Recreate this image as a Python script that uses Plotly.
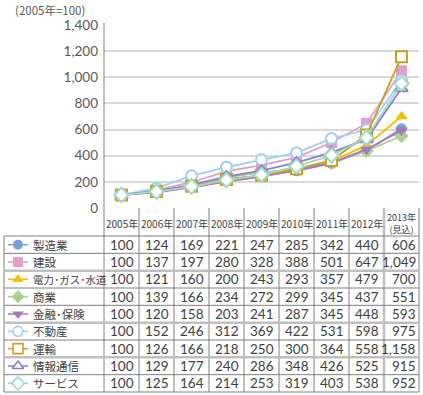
import plotly.graph_objects as go

years = ["2005年", "2006年", "2007年", "2008年", "2009年", "2010年", "2011年", "2012年", "2013年<br>(見込)"]
series_names = ["製造業", "建設", "電力・ガス・水道", "商業", "金融・保険", "不動産", "運輸", "情報通信", "サービス"]
manufacturing = [100, 124, 169, 221, 247, 285, 342, 440, 606]
construction = [100, 137, 197, 280, 328, 388, 501, 647, 1049]
utilities = [100, 121, 160, 200, 243, 293, 357, 479, 700]
commerce = [100, 139, 166, 234, 272, 299, 345, 437, 551]
finance = [100, 120, 158, 203, 241, 287, 345, 448, 593]
real_estate = [100, 152, 246, 312, 369, 422, 531, 598, 975]
transport = [100, 126, 166, 218, 250, 300, 364, 558, 1158]
info_comm = [100, 129, 177, 240, 286, 348, 426, 525, 915]
services = [100, 125, 164, 214, 253, 319, 403, 538, 952]
y_ticks = [0, 200, 400, 600, 800, 1000, 1200, 1400]

values = [manufacturing, construction, utilities, commerce, finance, real_estate, transport, info_comm, services]
colors = ["#7b9fd6", "#e0a0c8", "#f0c000", "#a9d08e", "#a878bd", "#9fd0f0", "#c9a020", "#8c80c0", "#a0d8c8"]
symbols = ["circle", "square", "triangle-up", "diamond", "triangle-down", "circle-open", "square-open", "triangle-up-open", "diamond-open"]

W, H = 423, 395
FONT = "Noto Sans CJK JP"
NUMFONT = "Lato"
TXT = "#404040"

x_left, x_right = 104, 419
y_top_px, y_zero_px = 25, 208
col_w = (x_right - x_left) / 9
table_top, table_bottom = 236, 392
row_h = (table_bottom - table_top) / 9


def py(p):
    return 1 - p / H


def px(p):
    return p / W


fig = go.Figure()

for name, vals, c, s in zip(series_names, values, colors, symbols):
    open_ = s.endswith("open")
    fig.add_trace(go.Scatter(
        x=years, y=vals, name=name, mode="lines+markers",
        line=dict(color=c, width=1.8),
        marker=dict(symbol=s.replace("-open", ""), size=11,
                    color="white" if open_ else c,
                    line=dict(color=c, width=2 if open_ else 0)),
        showlegend=False, cliponaxis=False,
    ))

# legend glyphs in table (overlay pixel axis)
for i, (c, s) in enumerate(zip(colors, symbols)):
    yc = table_top + row_h * (i + 0.5)
    open_ = s.endswith("open")
    fig.add_trace(go.Scatter(
        x=[8, 18, 28], y=[yc, yc, yc], mode="lines", line=dict(color=c, width=1.5),
        xaxis="x2", yaxis="y2", showlegend=False, hoverinfo="skip"))
    fig.add_trace(go.Scatter(
        x=[18], y=[yc], mode="markers",
        marker=dict(symbol=s.replace("-open", ""), size=10,
                    color="white" if open_ else c,
                    line=dict(color=c, width=1.6 if open_ else 0)),
        xaxis="x2", yaxis="y2", showlegend=False, hoverinfo="skip"))

shapes = []
line_dark = dict(color="#7f7f7f", width=1)
line_gray = dict(color="#bfbfbf", width=2.5)
shapes.append(dict(type="line", xref="paper", yref="paper", x0=px(x_left), x1=px(x_left),
                   y0=py(y_top_px - 2), y1=py(table_bottom), line=line_dark))
for k in range(1, 10):
    xx = x_left + col_w * k
    shapes.append(dict(type="line", xref="paper", yref="paper", x0=px(xx), x1=px(xx),
                       y0=py(y_zero_px), y1=py(table_bottom),
                       line=line_gray if k == 8 else line_dark))
shapes.append(dict(type="line", xref="paper", yref="paper", x0=px(4), x1=px(4),
                   y0=py(table_top), y1=py(table_bottom), line=line_dark))
for k in range(10):
    yy = table_top + row_h * k
    shapes.append(dict(type="line", xref="paper", yref="paper", x0=px(4), x1=px(x_right),
                       y0=py(yy), y1=py(yy), line=line_gray if k in (2, 5, 7) else line_dark))

annotations = [dict(text="(2005年=100)", xref="paper", yref="paper", x=px(13), y=1,
                    xanchor="left", yanchor="top", showarrow=False,
                    font=dict(family=FONT, size=11.5, color="#595959"))]
for j, yr in enumerate(years):
    annotations.append(dict(text=yr, xref="x", yref="paper", x=yr, y=py((y_zero_px + table_top) / 2 + 1),
                            xanchor="center", yanchor="middle", showarrow=False,
                            font=dict(family=FONT, size=10 if j < 8 else 9, color=TXT),
                            align="center"))
for i, (name, vals) in enumerate(zip(series_names, values)):
    yc = table_top + row_h * (i + 0.5)
    label = name.replace("・", "･")
    annotations.append(dict(text=label, xref="paper", yref="paper", x=px(31), y=py(yc),
                            xanchor="left", yanchor="middle", showarrow=False,
                            font=dict(family=FONT, size=10.5 if len(label) > 6 else 11.5, color=TXT)))
    for j, v in enumerate(vals):
        if j < 8:
            annotations.append(dict(text=f"{v:,}", xref="x", yref="paper", x=years[j], y=py(yc),
                                    xanchor="center", yanchor="middle", showarrow=False,
                                    font=dict(family=NUMFONT, size=13.5, color=TXT)))
        else:
            annotations.append(dict(text=f"{v:,}", xref="paper", yref="paper", x=px(x_right - 1.5), y=py(yc),
                                    xanchor="right", yanchor="middle", showarrow=False,
                                    font=dict(family=NUMFONT, size=13.5, color=TXT)))

fig.update_layout(
    width=W, height=H, margin=dict(l=0, r=0, t=0, b=0, pad=0, autoexpand=False),
    paper_bgcolor="white", plot_bgcolor="rgba(0,0,0,0)",
    xaxis=dict(type="category", categoryorder="array", categoryarray=years,
               domain=[px(x_left), px(x_right)], range=[-0.5, 8.5],
               showticklabels=False, showgrid=False, zeroline=False, showline=False, ticks=""),
    yaxis=dict(domain=[py(y_zero_px), py(y_top_px)], range=[0, 1400], tickvals=y_ticks,
               tickformat=",d", showgrid=True, gridcolor="#d9d9d9", gridwidth=1.5,
               zeroline=False, showline=False, ticks="", ticklabelstandoff=5,
               tickfont=dict(family=NUMFONT, size=13.5, color="#595959")),
    xaxis2=dict(domain=[0, 1], range=[0, W], visible=False, anchor="y2", fixedrange=True),
    yaxis2=dict(domain=[0, 1], range=[H, 0], visible=False, anchor="x2", fixedrange=True),
    shapes=shapes, annotations=annotations,
    font=dict(family=FONT, color=TXT),
)

fig.write_html("out.html", config={"displayModeBar": False},
               post_script="document.body.style.margin='0';document.body.style.overflow='hidden';")
